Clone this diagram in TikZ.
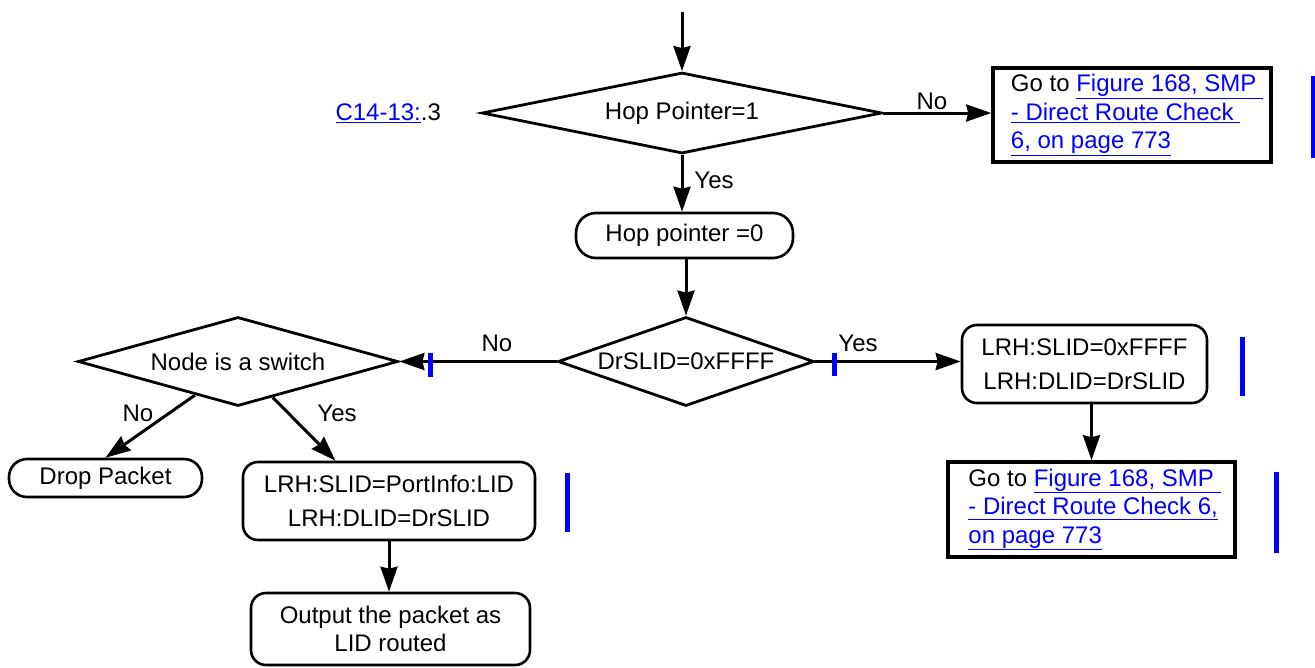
\documentclass[tikz,border=0pt]{standalone}
\usepackage{fontspec}
\setmainfont{Liberation Sans}
\usetikzlibrary{positioning,arrows.meta,shapes.geometric,calc}
\definecolor{linkblue}{RGB}{0,0,255}
\newcommand{\xref}[1]{\textcolor{linkblue}{\underline{#1}}}

\begin{document}
\begin{tikzpicture}[x=1pt,y=-1pt,>={Stealth[length=25pt,width=17pt,inset=2pt]},
  font=\fontsize{24}{28.5}\selectfont,
  flow/.style={->,line width=3pt},
  decision/.style={diamond,draw,line width=2.8pt,inner sep=0pt},
  process/.style={draw,rounded corners=15pt,line width=2.6pt,align=center,inner sep=0pt},
  gotobox/.style={draw,line width=3.6pt,align=left,inner sep=0pt},
  changebar/.style={fill=linkblue}]
  \useasboundingbox (0,0) rectangle (1315,667);
  % ---------------- decisions ----------------
  \node[decision,shape aspect=4.9,minimum width=400pt,minimum height=81pt] (hop1) at (682,113) {Hop Pointer=1};
  \node[decision,shape aspect=2.9,minimum width=256pt,minimum height=89pt] (drslid) at (686,361.5) {DrSLID=0xFFFF};
  \node[decision,shape aspect=3.6,minimum width=320pt,minimum height=89pt] (isswitch) at (238,361.5) {Node is a switch};
  % ---------------- actions ----------------
  \node[process,rounded corners=20pt,minimum width=217pt,minimum height=45pt] (hop0) at (684.5,235.5) {\raisebox{5pt}{Hop pointer =0}};
  \node[process,minimum width=245pt,minimum height=78pt] (slid1) at (1084.5,364) {LRH:SLID=0xFFFF\\[6pt]LRH:DLID=DrSLID};
  \node[process,rounded corners=18pt,minimum width=193pt,minimum height=38pt] (drop) at (105.5,478) {Drop Packet};
  \node[process,minimum width=292pt,minimum height=78pt] (slid2) at (389,501) {LRH:SLID=PortInfo:LID\\[6pt]LRH:DLID=DrSLID};
  \node[process,minimum width=279pt,minimum height=72pt] (outpkt) at (390.5,629) {Output the packet as\\LID routed};
  % ---------------- references ----------------
  \node[gotobox,minimum width=278pt,minimum height=94pt] (goto1) at (1132,115)
    {\hspace*{10pt}Go to \xref{Figure 168, SMP }\\\hspace*{10pt}\xref{- Direct Route Check }\\\hspace*{10pt}\xref{6, on page 773}};
  \node[gotobox,minimum width=287pt,minimum height=95pt] (goto2) at (1091.5,509.5)
    {\hspace*{6pt}Go to \xref{Figure 168, SMP }\\\hspace*{6pt}\xref{- Direct Route Check 6,}\\\hspace*{6pt}\xref{on page 773}};
  \node[anchor=west] (c14) at (332,113) {\xref{C14-13:}.3};
  % ---------------- connectors ----------------
  \coordinate (entry) at (682,12);
  \draw[flow] (entry) -- (hop1.north);
  \draw[flow] (hop1.east) -- (hop1.east -| goto1.west);
  \draw[flow] (hop1.south) -- (hop1.south |- hop0.north);
  \draw[flow] (drslid.north |- hop0.south) -- (drslid.north);
  \draw[flow] (drslid.west) -- (isswitch.east);
  \draw[flow] (drslid.east) -- (drslid.east -| slid1.west);
  \draw[flow] (slid1.south -| goto2.north) -- (goto2.north);
  \draw[flow] (isswitch.218) -- (drop.north);
  \draw[flow] (isswitch.314) -- (slid2.143);
  \draw[flow] (slid2.south) -- (slid2.south |- outpkt.north);
  % branch labels
  \node (no1) at (932,101) {No};
  \node (yes1) at (714,180) {Yes};
  \node (no2) at (497,343) {No};
  \node (yes2) at (858,343) {Yes};
  \node (no3) at (138,413) {No};
  \node (yes3) at (337,413) {Yes};
  % ---------------- change bars ----------------
  \fill[changebar] (1310.5,76) rectangle (1315,158);
  \fill[changebar] (427.5,353) rectangle (432.5,377);
  \fill[changebar] (831.5,353) rectangle (836.5,376);
  \fill[changebar] (1239.5,337) rectangle (1244.5,396);
  \fill[changebar] (564.5,473) rectangle (569.5,532);
  \fill[changebar] (1273.5,472) rectangle (1278.5,553);
\end{tikzpicture}
\end{document}
